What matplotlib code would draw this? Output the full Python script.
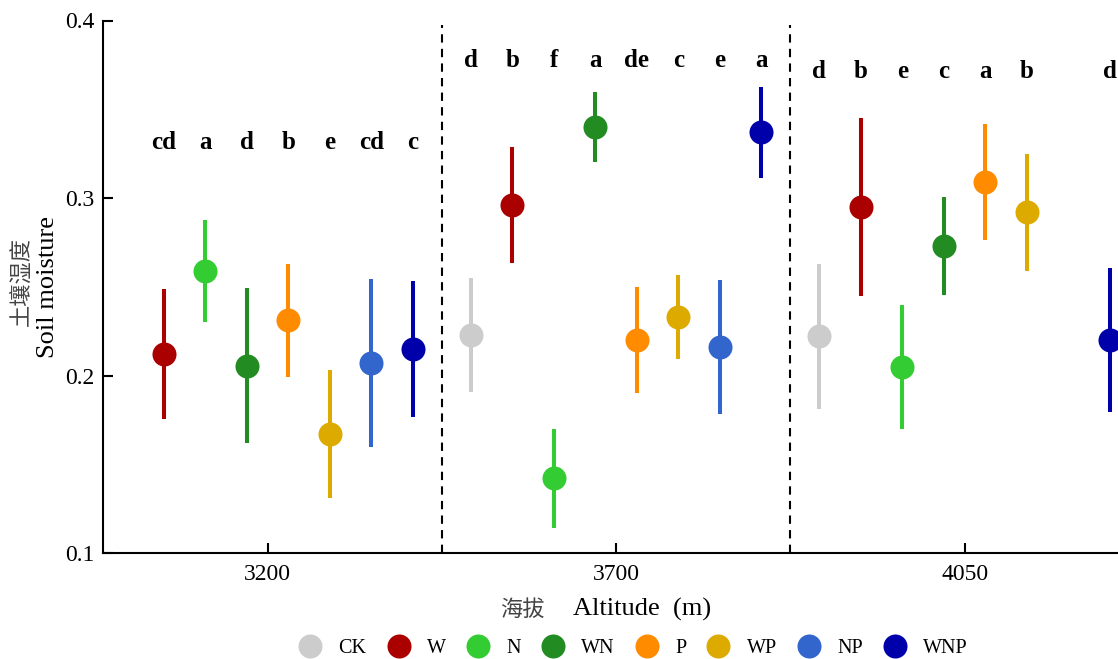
import numpy as np
import matplotlib
matplotlib.use("Agg")
import matplotlib.pyplot as plt
from matplotlib.lines import Line2D

# ---------------- data ----------------
altitudes = ["3200", "3700", "4050"]
treatments = ["CK", "W", "N", "WN", "P", "WP", "NP", "WNP"]
colors = ["#CCCCCC", "#AA0000", "#33CC33", "#228B22", "#FF8C00", "#DDAA00", "#3366CC", "#0000AA"]

nan = np.nan
# mean soil moisture, rows = altitude, cols = treatment
mean_3200 = [nan, 0.212, 0.259, 0.2055, 0.231, 0.167, 0.207, 0.215]
mean_3700 = [0.223, 0.296, 0.142, 0.340, 0.220, 0.233, 0.216, 0.337]
mean_4050 = [0.222, 0.295, 0.205, 0.273, 0.309, 0.292, nan, 0.220]
# error (half-length of bars)
err_3200 = [nan, 0.0366, 0.0287, 0.0437, 0.0318, 0.0359, 0.0475, 0.0385]
err_3700 = [0.0322, 0.0325, 0.0279, 0.0196, 0.0300, 0.0236, 0.0376, 0.0257]
err_4050 = [0.0409, 0.0500, 0.0350, 0.0276, 0.0326, 0.0329, nan, 0.0403]

letters_3200 = ["", "cd", "a", "d", "b", "e", "cd", "c"]
letters_3700 = ["d", "b", "f", "a", "de", "c", "e", "a"]
letters_4050 = ["d", "b", "e", "c", "a", "b", "", "d"]
letter_heights = [0.3315, 0.3777, 0.3712]

means = [mean_3200, mean_3700, mean_4050]
errs = [err_3200, err_3700, err_4050]
letters = [letters_3200, letters_3700, letters_4050]

# ---------------- plot ----------------
SERIF = ["Liberation Serif", "DejaVu Serif"]
CJK = ["Noto Sans CJK SC", "DejaVu Sans"]
plt.rcParams["font.family"] = SERIF

fig = plt.figure(figsize=(11.18, 6.59), dpi=100)
ax = fig.add_axes([103 / 1118, 1 - 553 / 659, 1 - 103 / 1118, (553 - 20.5) / 659])

step = 0.1191
for g in range(len(altitudes)):
    for i, t in enumerate(treatments):
        m = means[g][i]
        if np.isnan(m):
            continue
        x = g + (i - 3.5) * step
        ax.errorbar(x, m, yerr=errs[g][i], fmt="o", color=colors[i], ecolor=colors[i],
                    elinewidth=2.9, markersize=17.3, capsize=0, markeredgewidth=0,
                    clip_on=True, zorder=3)
    for i, lab in enumerate(letters[g]):
        if lab:
            x = g + (i - 3.5) * step
            ax.text(x, letter_heights[g], lab, ha="center", va="center",
                    fontsize=18, fontweight="bold", family=SERIF)

for xv in [0.5, 1.5]:
    ax.axvline(xv, ymin=0, ymax=(553 - 25) / (553 - 20.5), color="black",
               linestyle=(0, (4, 3)), linewidth=1.5, zorder=1)

ax.set_xlim(-0.472, 2.440)
ax.set_ylim(0.1, 0.4)
ax.set_xticks(range(len(altitudes)))
ax.set_xticklabels(altitudes)
ax.set_yticks([0.1, 0.2, 0.3, 0.4])
ax.set_yticklabels(["0.1", "0.2", "0.3", "0.4"])
ax.tick_params(direction="in", length=7, width=1.5, labelsize=17, pad=6)
ax.tick_params(axis="x", pad=8)
for s in ["top", "right"]:
    ax.spines[s].set_visible(False)
for s in ["left", "bottom"]:
    ax.spines[s].set_linewidth(1.5)

# y label (two lines, Chinese + English)
fig.text(21 / 1118, 1 - 281 / 659, "土壤湿度", rotation=90, ha="center", va="center",
         fontsize=16, family=CJK, color="#444444", fontweight="light")
fig.text(48 / 1118, 1 - 287 / 659, "Soil moisture", rotation=90, ha="center", va="center",
         fontsize=19, family=SERIF)

# x label
fig.text(522 / 1118, 1 - 609 / 659, "海拔", ha="center", va="center",
         fontsize=16, family=CJK, color="#444444", fontweight="light")
fig.text(573 / 1118, 1 - 609 / 659, "Altitude  (m)", ha="left", va="center",
         fontsize=19, family=SERIF)

# legend
handles = [Line2D([0], [0], marker="o", linestyle="none", markersize=17.3,
                  markerfacecolor=c, markeredgewidth=0) for c in colors]
fig.legend(handles, treatments, loc="center", bbox_to_anchor=(633 / 1118, 1 - 648 / 659),
           ncol=8, frameon=False, fontsize=14.5, handletextpad=0.8, columnspacing=1.0,
           handlelength=1.2, borderaxespad=0, borderpad=0)

fig.savefig("out.png", dpi=100)
